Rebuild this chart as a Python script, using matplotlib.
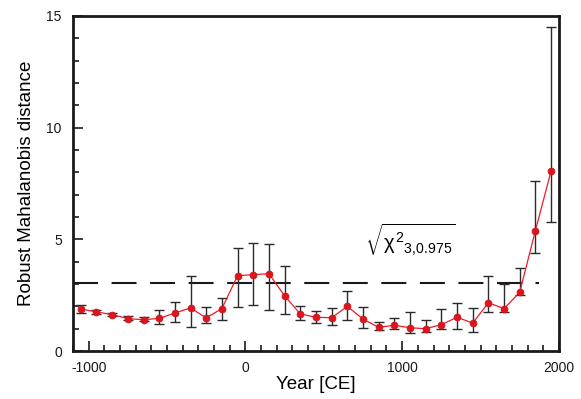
import numpy as np
import matplotlib
matplotlib.use('Agg')
from matplotlib import pyplot as plt
from matplotlib.ticker import MultipleLocator

plt.rcParams['font.family'] = ['Liberation Sans', 'DejaVu Sans']
plt.rcParams['axes.unicode_minus'] = False
plt.rcParams['mathtext.fontset'] = 'custom'
plt.rcParams['mathtext.rm'] = 'Liberation Sans'
plt.rcParams['mathtext.it'] = 'Liberation Sans'

# Centre year of each 100-year window
years = list(range(-1050, 2000, 100))
# Robust Mahalanobis distance and its error bar ends
dist = [1.88, 1.75, 1.63, 1.45, 1.40, 1.46, 1.70, 1.93, 1.48, 1.90,
        3.37, 3.42, 3.46, 2.47, 1.66, 1.51, 1.49, 2.00, 1.43, 1.06,
        1.15, 1.04, 1.00, 1.18, 1.51, 1.25, 2.16, 1.90, 2.63, 5.39, 8.06]
err_lo = [1.72, 1.66, 1.56, 1.38, 1.33, 1.21, 1.28, 1.06, 1.24, 1.37,
          1.96, 2.05, 1.85, 1.66, 1.39, 1.27, 1.16, 1.37, 1.05, 0.94,
          0.98, 0.82, 0.85, 1.00, 1.00, 0.85, 1.76, 1.75, 2.51, 4.39, 5.78]
err_hi = [2.05, 1.84, 1.70, 1.55, 1.50, 1.85, 2.21, 3.35, 1.98, 2.39,
          4.60, 4.85, 4.80, 3.81, 2.03, 1.81, 1.94, 2.70, 1.96, 1.31,
          1.49, 1.76, 1.37, 1.88, 2.14, 1.94, 3.37, 3.01, 3.72, 7.60, 14.5]
threshold = 3.057  # sqrt(chi2_{3,0.975})

x = np.array(years)
y = np.array(dist)
yerr = [y - np.array(err_lo), np.array(err_hi) - y]

fig = plt.figure(figsize=(5.81, 3.99), dpi=100)
ax = fig.add_axes([0.1256, 0.1203, 0.8364, 0.8397])

ax.plot([-1100, 1870], [threshold, threshold], color='#1a1a1a', lw=1.5,
        dashes=(12, 6.5), zorder=1)
ax.errorbar(x, y, yerr=yerr, fmt='none', ecolor='#2a2a2a', elinewidth=1.0,
            capsize=3.5, capthick=1.0, zorder=2)
ax.plot(x, y, '-', color='#ee1c24', lw=0.9, zorder=3)
ax.plot(x, y, 'o', color='#e0141c', ms=5, mec='#c8141c', mew=0.5, zorder=4)

ax.text(1050, 4.15, r'$\sqrt{\chi^{2}{}_{3{,}0.975}}$', fontsize=14.5,
        ha='center', va='bottom')

ax.set_xlim(-1100, 2000)
ax.set_ylim(0, 15)
ax.xaxis.set_major_locator(MultipleLocator(1000))
ax.xaxis.set_minor_locator(MultipleLocator(100))
ax.yaxis.set_major_locator(MultipleLocator(5))
ax.yaxis.set_minor_locator(MultipleLocator(1))
ax.tick_params(which='both', direction='in', top=False, right=False,
               labelsize=10, width=1.2, colors='#1a1a1a')
ax.tick_params(which='major', length=7, pad=7)
ax.tick_params(which='minor', length=4)
ax.tick_params(axis='y', pad=8)
for s in ax.spines.values():
    s.set_linewidth(2)
    s.set_color('#1a1a1a')

ax.set_xlabel('Year [CE]', fontsize=13.5, labelpad=1)
ax.set_ylabel('Robust Mahalanobis distance', fontsize=13.5, labelpad=8)

fig.savefig('out.png', dpi=100)
